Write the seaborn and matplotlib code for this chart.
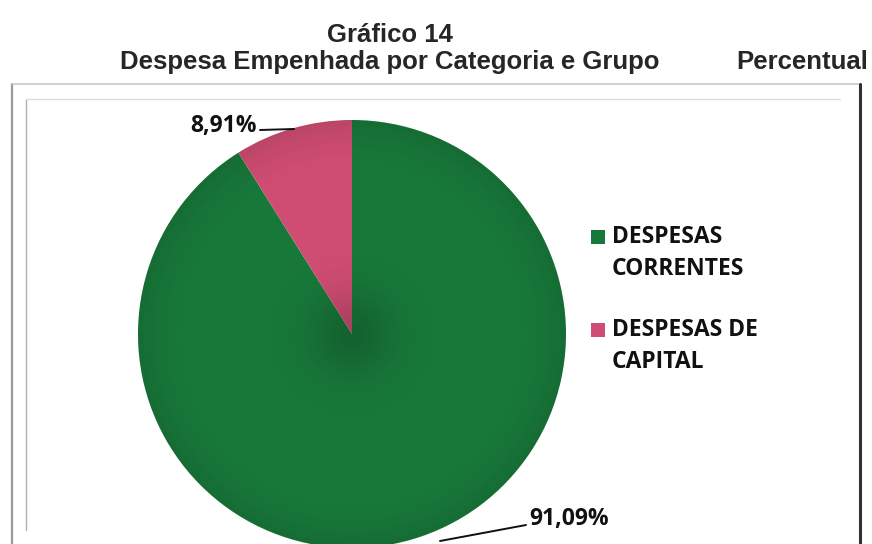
import matplotlib
matplotlib.use("Agg")
import matplotlib.pyplot as plt
from matplotlib.lines import Line2D
from matplotlib.patches import Rectangle, Circle
import numpy as np
import seaborn as sns

categories = ["DESPESAS\nCORRENTES", "DESPESAS DE\nCAPITAL"]
shares = [91.09, 8.91]
value_labels = ["91,09%", "8,91%"]
colors = ["#18783a", "#cf4d72"]

sns.set_theme(style="white")
plt.rcParams["font.family"] = ["Liberation Sans", "DejaVu Sans"]

W, H = 872, 544
fig = plt.figure(figsize=(W / 100, H / 100), dpi=100)
ax = fig.add_axes([0, 0, 1, 1])


def Y(y):
    return H - y


# frames
ax.add_line(Line2D([12, 12], [Y(84), Y(544)], color="#9a9a9a", lw=1.6))
ax.add_line(Line2D([12, 860], [Y(84), Y(84)], color="#c8c8c8", lw=1.2))
ax.add_line(Line2D([860, 860], [Y(84), Y(544)], color="#303030", lw=2.2))
ax.add_line(Line2D([26, 26], [Y(99), Y(530)], color="#b0b0b0", lw=1.0))
ax.add_line(Line2D([26, 840], [Y(99), Y(99)], color="#dcdcdc", lw=1.0))

# pie
cx, cy, r = 352, 334, 214
wedges, _ = ax.pie(shares, colors=colors, startangle=90, counterclock=False,
                   center=(cx, Y(cy)), radius=r, frame=True,
                   wedgeprops=dict(linewidth=0))

# soft radial shading over the pie (slightly darker at centre and rim)
gx = np.linspace(cx - r, cx + r, 400)
gy = np.linspace(Y(cy) - r, Y(cy) + r, 400)
XX, YY = np.meshgrid(gx, gy)
rr = np.hypot(XX - cx, YY - Y(cy)) / r
alpha = 0.18 * np.exp(-(rr / 0.2) ** 2) + 0.10 * np.clip((rr - 0.75) / 0.25, 0, 1) ** 2
shade = np.zeros((400, 400, 4))
shade[..., 3] = alpha
im = ax.imshow(shade, extent=(cx - r, cx + r, Y(cy) - r, Y(cy) + r), origin="lower",
               interpolation="bilinear", zorder=3)
clip = Circle((cx, Y(cy)), r, transform=ax.transData)
im.set_clip_path(clip)

ax.set_xlim(0, W)
ax.set_ylim(0, H)
ax.set_aspect("equal")
ax.axis("off")

# value labels with leader lines
lab_font = dict(family=["Open Sans", "DejaVu Sans"], fontweight="bold", fontsize=16.5,
                color="#111111")
ax.text(257, Y(126), value_labels[1], ha="right", va="center", **lab_font)
ax.add_line(Line2D([260, 294], [Y(130), Y(129)], color="#111111", lw=1.4))
ax.text(529, Y(519), value_labels[0], ha="left", va="center", **lab_font)
ax.add_line(Line2D([440, 526], [Y(541), Y(525)], color="#111111", lw=1.4, zorder=4))

# legend
leg_font = dict(family=["Open Sans", "DejaVu Sans"], fontweight="bold", fontsize=16.5,
                color="#111111", linespacing=1.45)
for ty, lab, col in zip([237, 330], categories, colors):
    ax.add_patch(Rectangle((591, Y(ty) - 7), 14, 14, color=col, lw=0))
    ax.text(612, Y(ty - 12), lab, ha="left", va="top", **leg_font)

# titles
fig.text(390 / W, 1 - 35 / H, "Gráfico 14", ha="center", va="center",
         fontsize=18.5, fontweight="bold")
fig.text(390 / W, 1 - 62 / H, "Despesa Empenhada por Categoria e Grupo", ha="center",
         va="center", fontsize=18.5, fontweight="bold")
fig.text(802 / W, 1 - 62 / H, "Percentual", ha="center", va="center",
         fontsize=18.5, fontweight="bold")

fig.savefig("out.png", dpi=100)
